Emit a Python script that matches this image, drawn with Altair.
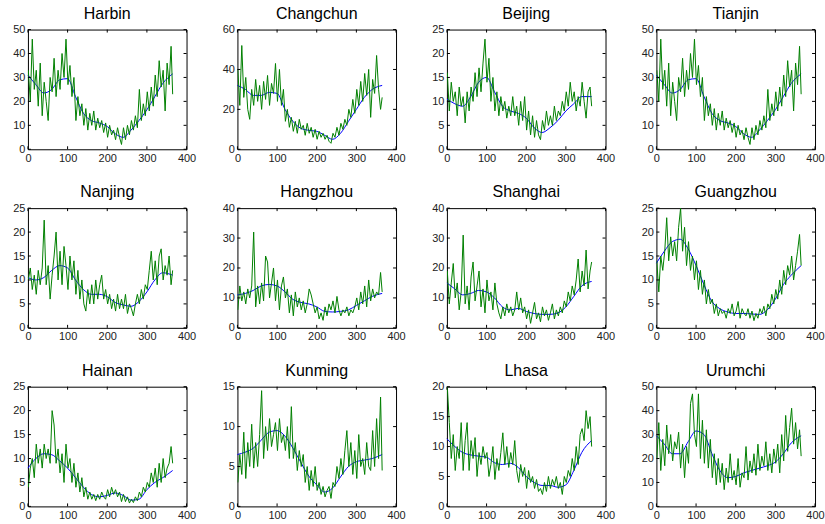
import altair as alt
import pandas as pd

cities = ["Harbin", "Changchun", "Beijing", "Tianjin",
          "Nanjing", "Hangzhou", "Shanghai", "Guangzhou",
          "Hainan", "Kunming", "Lhasa", "Urumchi"]
y_max = [50, 60, 25, 50, 25, 40, 40, 25, 25, 15, 20, 50]
y_step = [10, 20, 5, 10, 5, 10, 10, 5, 5, 5, 5, 10]
x_ticks = [0, 100, 200, 300, 400]

days = list(range(1, 362, 5)) + [365]
smooth_days = [0, 20, 40, 60, 80, 100, 120, 140, 160, 180, 200, 220, 240,
               260, 280, 300, 320, 340, 365]

harbin = [33, 20, 46, 25, 33, 18, 36, 14, 28, 20, 12, 30, 24, 38, 22, 33, 25, 40, 30, 46,
          27, 35, 22, 30, 12, 22, 14, 19, 10, 17, 8, 15, 10, 16, 8, 13, 9, 12, 7, 11,
          5, 10, 6, 8, 4, 9, 5, 2, 9, 4, 10, 6, 12, 8, 14, 9, 25, 12, 19, 14,
          24, 16, 26, 18, 31, 22, 37, 26, 33, 16, 36, 27, 43, 23]
changchun = [40, 22, 52, 26, 36, 20, 15, 30, 22, 35, 24, 32, 20, 34, 25, 37, 22, 33, 28, 43,
             24, 40, 22, 30, 14, 20, 11, 16, 9, 14, 8, 15, 10, 12, 7, 13, 8, 11, 6, 10,
             5, 9, 6, 8, 5, 7, 4, 3, 8, 6, 11, 7, 13, 10, 15, 12, 20, 16, 25, 18,
             30, 22, 34, 24, 38, 27, 40, 16, 35, 28, 47, 30, 20, 26]
beijing = [16, 8, 14, 10, 12, 7, 13, 9, 11, 5.5, 12, 8, 13, 10, 16, 11, 17, 12, 18, 23,
           14, 19, 10, 15, 8, 12, 7, 11, 8, 10, 6.5, 9, 7, 11, 7, 9, 5, 10, 6, 11,
           4, 8, 3, 7, 2.5, 6, 3, 2, 6, 4, 8, 5, 7, 5, 9, 6, 8, 7, 10, 8,
           12, 9, 14, 10, 12, 8, 11, 9, 14, 10, 6.5, 12, 13, 9]
tianjin = list(harbin)
nanjing = [10, 12.5, 8, 11, 7, 12, 9, 12.5, 22.5, 9, 13, 6, 11, 15, 20, 10, 16, 9, 17, 13,
           8, 15, 10, 14, 7, 12, 6, 10, 5, 3.5, 8, 5, 9, 5, 10, 6, 9, 11, 6, 8,
           5, 7, 4, 6, 3.5, 7, 4, 6, 4, 7, 3, 5, 4, 2.5, 5, 7, 5, 8, 6, 9,
           8, 12, 16, 10, 14, 9, 15, 16.5, 10, 13, 11, 15, 9, 12]
hangzhou = [6, 14, 9, 12, 8, 13, 10, 14, 32, 7, 14, 8, 15, 9, 24, 22, 10, 15, 20, 9,
            16, 6, 14, 17, 10, 13, 5, 11, 4, 12, 7, 10, 6, 9, 5, 8, 13, 11, 8, 5,
            7, 3, 5, 2.5, 7, 4, 8, 6, 9, 5, 10.5, 6, 4, 6, 5, 7, 4, 6, 5, 7,
            10, 6, 12, 8, 14, 7, 16, 9, 13, 10, 12, 11, 18.5, 12]
shanghai = [19, 8, 15, 21.5, 10, 15, 6, 12, 31, 8, 14, 6, 17, 22, 9, 14, 19, 7, 13, 5,
            16, 9, 12, 6, 15, 8, 5, 3, 7, 4, 8, 5, 7, 4, 6, 12, 6, 10, 5, 7,
            3, 6, 1.5, 5, 8.5, 3, 5, 2, 7, 4, 6, 2.5, 5, 8, 3, 6, 4, 7, 5, 9,
            7, 12, 9, 14, 11, 16, 23, 12, 19, 14, 26, 13, 19, 22]
guangzhou = [14, 7.5, 15, 12, 16, 23, 14, 19, 15, 18, 14, 21, 25, 16, 21, 13, 18, 12, 15, 10,
             14, 8, 12, 7, 10, 5, 8, 5, 6, 3, 5, 2.5, 4, 3, 3.5, 2, 4, 3, 5, 2.5,
             3.5, 5.5, 2, 4, 3, 2.5, 4, 2, 3.5, 1.5, 3, 2, 4, 3, 4.5, 2.5, 5, 4, 7, 5,
             8, 6, 10, 7, 12, 9, 13, 11, 15, 10, 13, 16, 19.5, 13]
hainan = [4, 8, 10, 6, 13, 9, 12, 8, 13, 10, 12, 9, 20, 17, 9, 12, 7, 11, 5, 13,
          8, 10, 5, 9, 4, 7, 3, 6, 2, 4, 1.5, 3, 1.5, 2.5, 1.2, 2.5, 1.5, 3, 2, 1.5,
          3.5, 2, 4, 2.5, 3.5, 2, 3, 1, 2.5, 1, 2, 0.7, 1.5, 0.8, 2, 1.2, 3, 2, 4, 3,
          5, 4, 7, 5, 8, 4, 9, 5, 10, 6, 8, 9, 12.5, 9]
kunming = [3, 6.5, 4, 9.3, 3.5, 8, 5, 10.3, 4.8, 8, 5, 9, 14.5, 6, 10, 7, 11, 7.5, 9, 10.5,
           7, 11, 8, 9, 7, 10, 6, 12.5, 6, 8, 4.5, 7, 5, 6.5, 3, 5, 2, 4.5, 2.5, 5,
           2, 3, 1.5, 2.5, 1.2, 2, 2.5, 1, 3, 2.5, 5, 3.5, 6, 4, 7, 9.5, 5, 8, 4, 7,
           3.5, 9, 5, 6, 4, 8, 5, 4.5, 9.5, 5, 11, 6, 13.7, 4.5]
lhasa = [20, 14, 8, 12, 6, 10, 8, 14, 6, 11, 14, 6, 11, 8, 11.5, 5, 9, 7, 10, 8,
         9, 5, 7, 10, 4.5, 8, 6, 9, 12.3, 7, 10, 6.5, 9, 7, 11, 6, 4, 7, 5, 6.5,
         3, 6, 4, 5, 3, 4.5, 2.5, 3, 2, 4, 2.5, 5, 3, 4.5, 3.5, 5, 3, 4, 2, 5,
         4, 6, 5, 8, 6, 10, 7, 12, 13, 11, 16, 13, 15, 10]
urumchi = [20, 35, 15, 28, 17, 34, 22, 30, 19, 27, 24, 31, 16, 26, 12, 25, 18, 43, 47, 30,
           25, 47, 20, 36, 18, 32, 16, 28, 12, 22, 9, 20, 10, 18, 7, 16, 10, 22, 11, 15,
           9, 20, 8, 14, 12, 25, 11, 19, 14, 22, 13, 26, 15, 21, 17, 27, 15, 22, 14, 24,
           18, 26, 14, 30, 19, 38, 23, 33, 41, 26, 35, 24, 32, 21]

harbin_s = [31, 27, 23.5, 25, 29, 29.5, 22, 15, 12, 11, 9.5, 6.5, 5, 8, 12, 16.5, 22, 27.5, 31.5]
changchun_s = [32, 30, 27, 27, 28.5, 28, 20, 14, 10.5, 9.5, 9, 7, 5, 8, 14, 20, 26, 30, 32]
beijing_s = [10.5, 9.5, 9, 11, 14, 15, 12, 9, 8, 7.5, 6.5, 4.5, 3.5, 4.5, 6, 8, 9.5, 11, 11]
tianjin_s = list(harbin_s)
nanjing_s = [10.5, 10, 10.5, 12, 13, 12.5, 10, 8, 7, 7, 6.5, 5.3, 4.8, 4.5, 5.5, 7.5, 10, 11.5, 11]
hangzhou_s = [11, 11.5, 12.5, 14, 14.5, 14, 12, 9.5, 8.5, 8, 7, 5.5, 5.3, 5.5, 6, 7.5, 9, 10.5, 11.5]
shanghai_s = [15, 13, 11, 11.5, 12.5, 12, 10, 7, 6, 6.5, 5.5, 4.8, 4.5, 4.5, 5, 7, 10.5, 14, 15.5]
guangzhou_s = [13.5, 16, 18, 18.5, 16.5, 13, 9, 5.5, 4, 3.3, 3, 3, 2.9, 2.8, 3.8, 6, 9, 11, 13]
hainan_s = [8, 10, 11, 10.8, 9.5, 8, 6, 4, 2.5, 2, 2.3, 2.8, 2.3, 1.3, 1.5, 3.5, 5, 6, 7.5]
kunming_s = [6.5, 6.8, 7.3, 8.3, 9.3, 9.5, 8.8, 7.3, 5.5, 3.8, 2.7, 1.8, 2.3, 3.7, 5, 5.6, 5.8, 6, 6.5]
lhasa_s = [11.3, 10, 9, 8.6, 8.4, 8.2, 7.3, 7, 7.2, 6.5, 5, 4, 3.5, 3.5, 3.2, 3.6, 6, 9, 11]
urumchi_s = [29.5, 26, 22, 22, 27, 31.5, 30, 22, 15, 12, 12.5, 14, 15, 16, 17, 18.5, 22, 26.5, 29.5]

noisy_all = [harbin, changchun, beijing, tianjin, nanjing, hangzhou, shanghai,
             guangzhou, hainan, kunming, lhasa, urumchi]
smooth_all = [harbin_s, changchun_s, beijing_s, tianjin_s, nanjing_s, hangzhou_s,
              shanghai_s, guangzhou_s, hainan_s, kunming_s, lhasa_s, urumchi_s]

W, H = 159, 120
TL = 3
GREEN = "#008000"
BLUE = "#0000ff"
FONT = "Liberation Sans"


def panel(name, noisy, smooth, ymax, ystep):
    yt = list(range(0, ymax + 1, ystep))
    xs = alt.Scale(domain=[0, 400], nice=False, zero=False)
    ys = alt.Scale(domain=[0, ymax], nice=False)
    xax = alt.Axis(values=x_ticks, title=None, format="d", labels=True,
                   domain=False, ticks=False, grid=False)
    yax = alt.Axis(values=yt, title=None, format="d", labels=True,
                   domain=False, ticks=False, grid=False)
    d1 = pd.DataFrame({"day": days, "val": noisy})
    d2 = pd.DataFrame({"day": smooth_days, "val": smooth})
    tdy = pd.DataFrame({"t": yt})
    tdx = pd.DataFrame({"t": x_ticks})
    blue = alt.Chart(d2).mark_line(color=BLUE, strokeWidth=1, interpolate="monotone").encode(
        x=alt.X("day:Q", scale=xs, axis=xax),
        y=alt.Y("val:Q", scale=ys, axis=yax))
    green = alt.Chart(d1).mark_line(color=GREEN, strokeWidth=1, clip=True).encode(
        x=alt.X("day:Q", scale=xs, axis=xax),
        y=alt.Y("val:Q", scale=ys, axis=yax))
    left = alt.Chart(tdy).mark_rule(color="black", strokeWidth=1).encode(
        y=alt.Y("t:Q", scale=ys, axis=yax), x=alt.value(0), x2=alt.value(TL))
    right = alt.Chart(tdy).mark_rule(color="black", strokeWidth=1).encode(
        y=alt.Y("t:Q", scale=ys, axis=yax), x=alt.value(W - TL), x2=alt.value(W))
    bottom = alt.Chart(tdx).mark_rule(color="black", strokeWidth=1).encode(
        x=alt.X("t:Q", scale=xs, axis=xax), y=alt.value(H - TL), y2=alt.value(H))
    top = alt.Chart(tdx).mark_rule(color="black", strokeWidth=1).encode(
        x=alt.X("t:Q", scale=xs, axis=xax), y=alt.value(0), y2=alt.value(TL))
    return alt.layer(blue, green, left, right, bottom, top).properties(
        width=W, height=H,
        title=alt.TitleParams(text=name, fontSize=16, font=FONT, fontWeight="normal",
                              color="black", offset=2, anchor="middle"))


panels = [panel(c, n, s, m, st) for c, n, s, m, st in
          zip(cities, noisy_all, smooth_all, y_max, y_step)]

chart = alt.concat(*panels, columns=4, spacing={"row": 59, "column": 51},
                   bounds="flush").properties(
    padding={"left": 12, "top": 4, "right": 0, "bottom": 0},
    background="white"
).configure_view(
    stroke="black", strokeWidth=1
).configure_axis(
    labelFont=FONT, labelFontSize=11,
    labelColor="#222222", labelPadding=3, labelFlush=False, labelOverlap=False
)

chart.save("out.html", embed_options={"renderer": "svg", "actions": False})
